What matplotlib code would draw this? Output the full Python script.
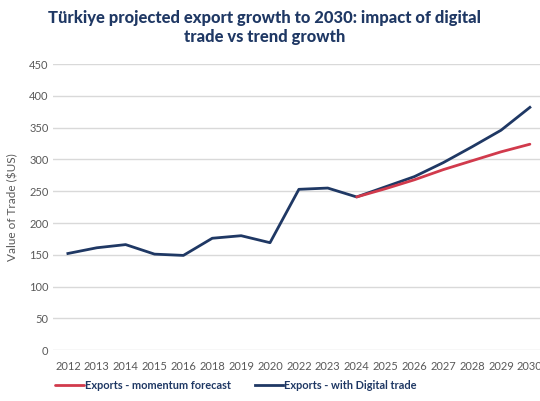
import matplotlib.pyplot as plt
import numpy as np

YEARS = ["2012", "2013", "2014", "2015", "2016", "2018", "2019", "2020", "2022",
         "2023", "2024", "2025", "2026", "2027", "2028", "2029", "2030"]
DIGITAL = [152, 161, 166, 151, 149, 176, 180, 169, 253, 255, 241,
           257, 273, 295, 320, 346, 382]
MOMENTUM_YEARS = YEARS[10:]
MOMENTUM = [241, 254, 268, 284, 298, 312, 324]

NAVY = "#1F3864"
RED = "#D13A4C"
GREY = "#595959"

plt.rcParams["font.family"] = ["Lato", "DejaVu Sans"]

fig = plt.figure(figsize=(5.4, 4.01), dpi=100)
ax = fig.add_axes([0.099, 0.127, 0.909, 0.713])

x = np.arange(len(YEARS))
xm = x[10:]
ax.plot(xm, MOMENTUM, color=RED, linewidth=2.0, label="Exports - momentum forecast",
        solid_capstyle="round", zorder=3)
ax.plot(x, DIGITAL, color=NAVY, linewidth=2.0, label="Exports - with Digital trade",
        solid_joinstyle="round", zorder=2)

ax.set_xlim(-0.5, len(YEARS) - 0.5)
ax.set_ylim(0, 450)
ax.set_yticks(range(0, 451, 50))
ax.set_xticks(x)
ax.set_xticklabels(YEARS)
ax.tick_params(axis="both", length=0, colors=GREY, labelsize=8)
ax.tick_params(axis="x", pad=8)
ax.grid(axis="y", color="#D9D9D9", linewidth=1.0)
ax.set_axisbelow(True)
for s in ax.spines.values():
    s.set_visible(False)
ax.set_ylabel("Value of Trade ($US)", color=GREY, fontsize=8.5, labelpad=8)

fig.text(0.49, 0.975, "Türkiye projected export growth to 2030: impact of digital\ntrade vs trend growth",
         ha="center", va="top", fontsize=11.9, fontweight="black", color=NAVY,
         linespacing=1.2)

leg = fig.legend(loc="lower center", bbox_to_anchor=(0.437, 0.0), ncol=2, frameon=False,
                 fontsize=7.9, handlelength=2.6, handletextpad=0.1, columnspacing=2.2)
for t in leg.get_texts():
    t.set_color(NAVY)
    t.set_fontweight("bold")

fig.savefig("out.png", dpi=100)
